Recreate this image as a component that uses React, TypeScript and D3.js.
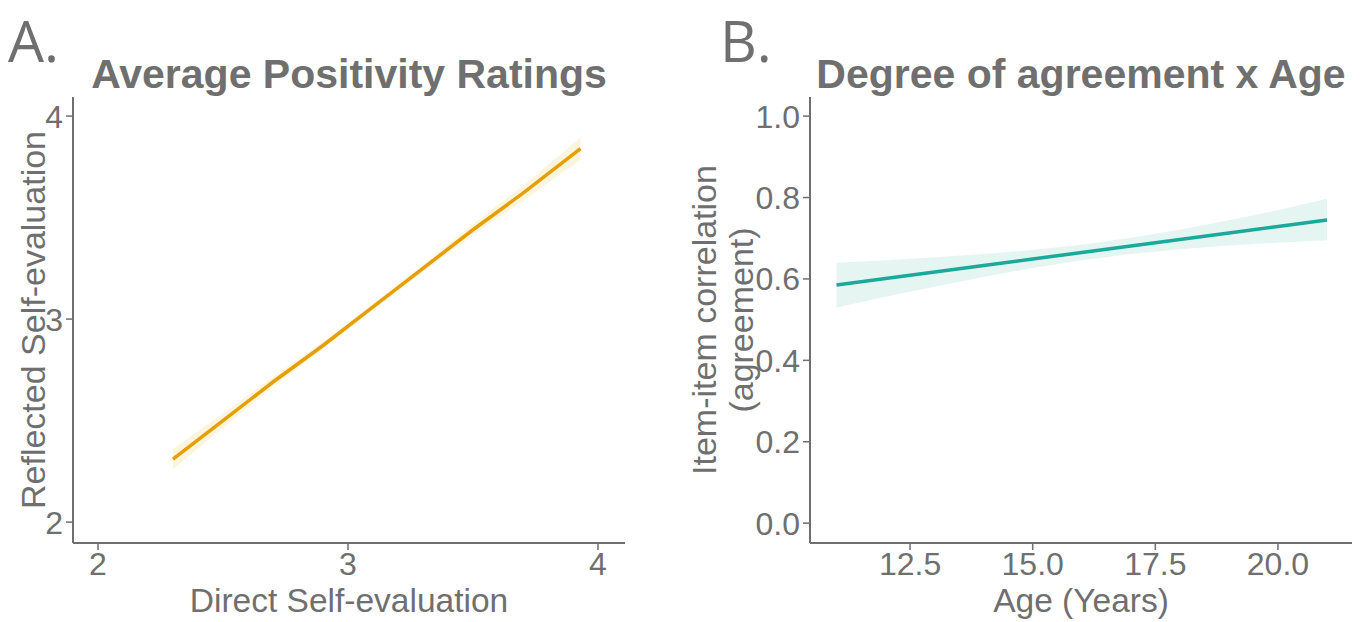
import React from 'react';
import * as d3 from 'd3';

// Panel A: direct vs reflected self-evaluation (linear fit + CI ribbon)
const directX = [2.3, 2.5, 2.7, 2.9, 3.1, 3.3, 3.5, 3.7, 3.93];
const reflectedFit = [2.31, 2.5, 2.69, 2.87, 3.06, 3.25, 3.44, 3.62, 3.84];
const reflectedLo = [2.26, 2.465, 2.665, 2.853, 3.045, 3.232, 3.413, 3.583, 3.785];
const reflectedHi = [2.36, 2.535, 2.715, 2.887, 3.075, 3.268, 3.467, 3.657, 3.895];
const ticksA = [2, 3, 4];

// Panel B: item-item correlation by age
const ages = [11, 12, 13, 14, 15, 16, 17, 18, 19, 20, 21];
const agreeFit = [0.585, 0.601, 0.617, 0.633, 0.649, 0.665, 0.681, 0.697, 0.713, 0.729, 0.745];
const agreeLo = [0.53, 0.556, 0.581, 0.605, 0.627, 0.646, 0.661, 0.673, 0.682, 0.689, 0.695];
const agreeHi = [0.64, 0.646, 0.653, 0.661, 0.671, 0.684, 0.701, 0.721, 0.744, 0.769, 0.797];
const ageTicks = [12.5, 15, 17.5, 20];
const corrTicks = [0, 0.2, 0.4, 0.6, 0.8, 1.0];

const GREY = '#6f6f6f';
const FONT = '"Liberation Sans", Arial, sans-serif';

function Panel(props: any) {
  const { left, right, top, bottom, xDomain, yDomain, xTicks, yTicks, xFmt, yFmt,
    xs, fit, lo, hi, color, ribbon, ribbonOpacity, title, letter, letterX, xLabel, yLabels } = props;
  const x = d3.scaleLinear().domain(xDomain).range([left, right]);
  const y = d3.scaleLinear().domain(yDomain).range([bottom, top]);
  const pts = xs.map((v: number, i: number) => ({ x: v, f: fit[i], l: lo[i], h: hi[i] }));
  const line = d3.line<any>().x(d => x(d.x)).y(d => y(d.f));
  const area = d3.area<any>().x(d => x(d.x)).y0(d => y(d.l)).y1(d => y(d.h));
  const cx = (left + right) / 2;
  const cy = (top + bottom) / 2;
  return (
    <g fontFamily={FONT} fill={GREY}>
      <text x={letterX} y={62} fontSize={57} fontFamily='"Open Sans", sans-serif'>{letter}</text>
      <text x={cx} y={88} fontSize={41} fontWeight="bold" textAnchor="middle">{title}</text>
      <path d={area(pts) || ''} fill={ribbon} fillOpacity={ribbonOpacity} stroke="none" />
      <path d={line(pts) || ''} fill="none" stroke={color} strokeWidth={3.5} />
      <line x1={left} x2={left} y1={top} y2={bottom} stroke={GREY} strokeWidth={2} />
      <line x1={left} x2={right} y1={bottom} y2={bottom} stroke={GREY} strokeWidth={2} />
      {yTicks.map((t: number) => (
        <g key={'y' + t}>
          <line x1={left - 7} x2={left} y1={y(t)} y2={y(t)} stroke={GREY} strokeWidth={1.5} />
          <text x={left - 10} y={y(t)} dy="0.36em" fontSize={32} textAnchor="end">{yFmt(t)}</text>
        </g>
      ))}
      {xTicks.map((t: number) => (
        <g key={'x' + t}>
          <line x1={x(t)} x2={x(t)} y1={bottom} y2={bottom + 7} stroke={GREY} strokeWidth={1.5} />
          <text x={x(t)} y={bottom + 32} fontSize={32} textAnchor="middle">{xFmt(t)}</text>
        </g>
      ))}
      <text x={cx} y={bottom + 69} fontSize={33.5} textAnchor="middle">{xLabel}</text>
      {yLabels.map((lab: any, i: number) => (
        <text key={i} transform={`translate(${lab.x},${cy}) rotate(-90)`} fontSize={34} textAnchor="middle">{lab.text}</text>
      ))}
    </g>
  );
}

export default function App() {
  return (
    <svg width={1367} height={622} style={{ position: 'absolute', left: 0, top: 0, background: '#fff' }}>
      <rect width={1367} height={622} fill="#fff" />
      <Panel left={73} right={625} top={97} bottom={543}
        xDomain={[1.9, 4.108]} yDomain={[1.897, 4.094]}
        xTicks={ticksA} yTicks={ticksA} xFmt={(t: number) => String(t)} yFmt={(t: number) => String(t)}
        xs={directX} fit={reflectedFit} lo={reflectedLo} hi={reflectedHi}
        color="#E69F00" ribbon="#E6B400" ribbonOpacity={0.13}
        title="Average Positivity Ratings" letter="A." letterX={8}
        xLabel="Direct Self-evaluation"
        yLabels={[{ x: 45, text: 'Reflected Self-evaluation' }]} />
      <Panel left={810} right={1352} top={97} bottom={543}
        xDomain={[10.46, 21.51]} yDomain={[-0.0488, 1.047]}
        xTicks={ageTicks} yTicks={corrTicks} xFmt={(t: number) => t.toFixed(1)} yFmt={(t: number) => t.toFixed(1)}
        xs={ages} fit={agreeFit} lo={agreeLo} hi={agreeHi}
        color="#1AA99A" ribbon="#009E73" ribbonOpacity={0.1}
        title="Degree of agreement x Age" letter="B." letterX={720}
        xLabel="Age (Years)"
        yLabels={[{ x: 716, text: 'Item-item correlation' }, { x: 753, text: '(agreement)' }]} />
    </svg>
  );
}
